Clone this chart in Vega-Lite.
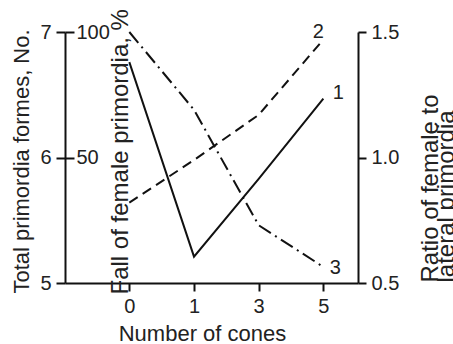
{
  "$schema": "https://vega.github.io/schema/vega-lite/v6.json",
  "width": 293,
  "height": 251,
  "autosize": {"type": "none"},
  "padding": {"left": 65, "top": 32, "right": 95, "bottom": 61},
  "background": "white",
  "config": {
    "view": {"stroke": null},
    "font": "Liberation Sans",
    "axis": {
      "grid": false,
      "labelOverlap": false,
      "labelFlush": false,
      "domainColor": "#111",
      "domainWidth": 2,
      "tickColor": "#111",
      "tickWidth": 2,
      "labelFont": "Liberation Sans",
      "labelFontSize": 20,
      "labelColor": "#222",
      "titleFont": "Liberation Sans",
      "titleFontSize": 22,
      "titleFontWeight": "normal",
      "titleColor": "#222"
    }
  },
  "data": {
    "values": [
      {"cones": "0", "total": 6.76, "fall": 100, "ratio": 0.82},
      {"cones": "1", "total": 5.21, "fall": 69, "ratio": 0.99},
      {"cones": "3", "total": 5.83, "fall": 23, "ratio": 1.17},
      {"cones": "5", "total": 6.47, "fall": 6.4, "ratio": 1.47}
    ]
  },
  "encoding": {
    "x": {
      "field": "cones",
      "type": "ordinal",
      "sort": ["0", "1", "3", "5"],
      "scale": {"type": "point", "domain": ["0", "1", "3", "5"], "padding": 0.765, "align": 0.65},
      "axis": {
        "orient": "bottom",
        "labelAngle": 0,
        "tickSize": 8,
        "labelPadding": 5,
        "title": "Number of cones",
        "titleX": 137,
        "titleY": 50,
        "titleBaseline": "middle"
      }
    }
  },
  "layer": [
    {
      "encoding": {
        "y": {
          "field": "total",
          "type": "quantitative",
          "scale": {"domain": [5, 7], "nice": false, "zero": false},
          "axis": {
            "orient": "left",
            "values": [5, 6, 7],
            "tickCount": 10,
            "labelExpr": "'' + datum.value",
            "labelOverlap": false,
            "tickSize": 9,
            "labelPadding": 5,
            "title": "Total primordia formes, No.",
            "titleAngle": 270,
            "titleAlign": "left",
            "titleBaseline": "middle",
            "titleX": -44,
            "titleY": 261
          }
        }
      },
      "layer": [
        {"mark": {"type": "line", "color": "#111", "strokeWidth": 2}},
        {
          "transform": [{"filter": "datum.cones == '5'"}],
          "mark": {"type": "text", "text": "1", "fontSize": 20, "color": "#222", "dx": 15, "dy": -6, "font": "Liberation Sans"}
        }
      ]
    },
    {
      "encoding": {
        "y": {
          "field": "fall",
          "type": "quantitative",
          "scale": {"domain": [0, 100], "nice": false},
          "axis": {
            "orient": "right",
            "offset": -293,
            "values": [50, 100],
            "tickCount": 10,
            "domain": false,
            "tickSize": 9,
            "labelPadding": 2,
            "title": "Fall of female primordia, %",
            "titleFontSize": 24,
            "titleAngle": 270,
            "titleAlign": "left",
            "titleBaseline": "middle",
            "titleX": 55,
            "titleY": 262
          }
        }
      },
      "layer": [
        {"mark": {"type": "line", "color": "#111", "strokeWidth": 2, "strokeDash": [14, 5, 2, 5]}},
        {
          "transform": [{"filter": "datum.cones == '5'"}],
          "mark": {"type": "text", "text": "3", "fontSize": 20, "color": "#222", "dx": 12, "dy": 1, "font": "Liberation Sans"}
        }
      ]
    },
    {
      "encoding": {
        "y": {
          "field": "ratio",
          "type": "quantitative",
          "scale": {"domain": [0.5, 1.5], "nice": false, "zero": false},
          "axis": {
            "orient": "right",
            "values": [0.5, 1.0, 1.5],
            "tickCount": 10,
            "format": ".1f",
            "tickSize": 8,
            "labelPadding": 5,
            "title": ["Ratio of female to", "lateral primordia"],
            "titleFontSize": 24,
            "titleAngle": 270,
            "titleAlign": "left",
            "titleBaseline": "middle",
            "titleLineHeight": 16,
            "titleX": 72,
            "titleY": 250
          }
        }
      },
      "layer": [
        {"mark": {"type": "line", "color": "#111", "strokeWidth": 2, "strokeDash": [10, 6]}},
        {
          "transform": [{"filter": "datum.cones == '5'"}],
          "mark": {"type": "text", "text": "2", "fontSize": 20, "color": "#222", "dx": -5, "dy": -8, "font": "Liberation Sans"}
        }
      ]
    }
  ],
  "resolve": {"scale": {"y": "independent"}}
}
